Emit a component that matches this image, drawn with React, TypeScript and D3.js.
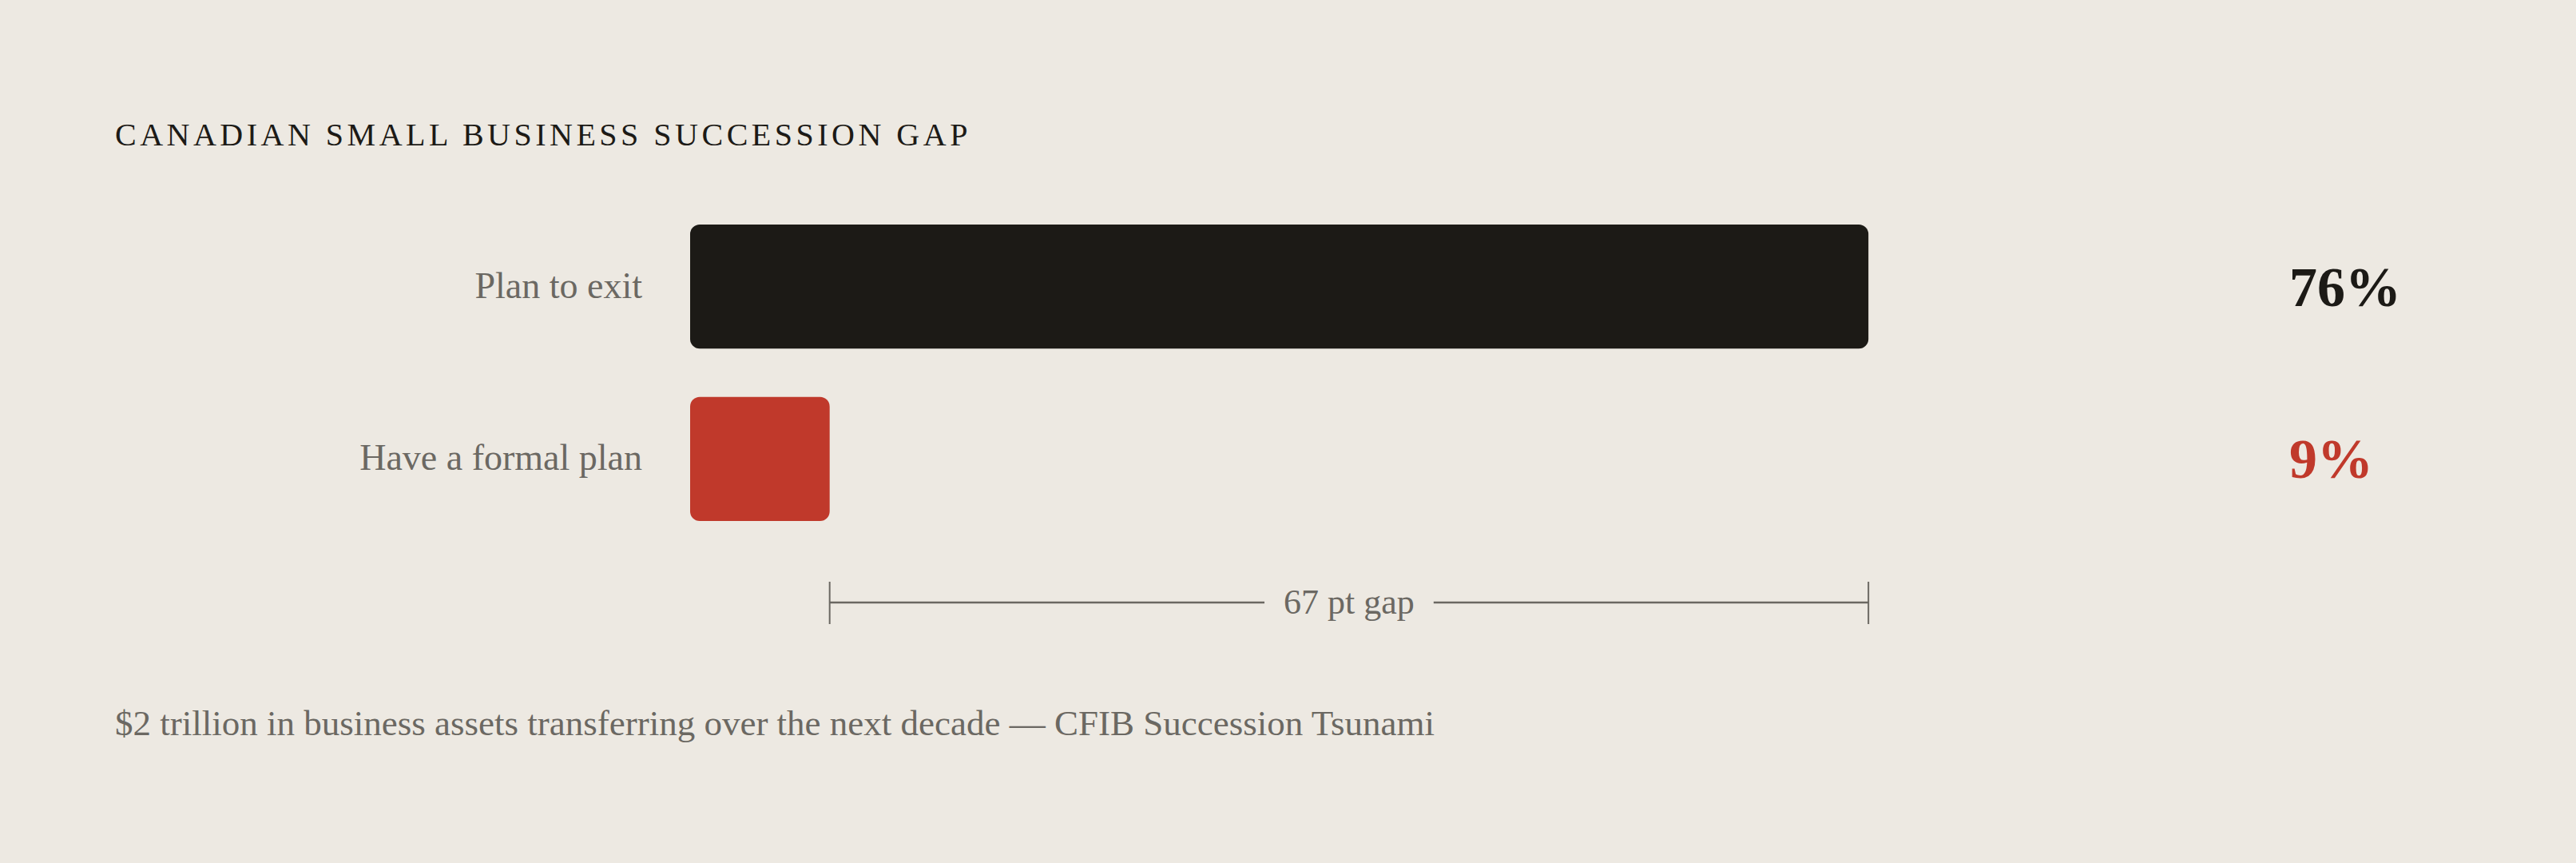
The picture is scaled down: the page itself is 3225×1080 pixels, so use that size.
import { useEffect, useRef } from 'react';
import * as d3 from 'd3';

const categories = ['Plan to exit', 'Have a formal plan'];
const values = [76, 9];
const barColors = ['#1c1a16', '#c0392b'];
const title = 'CANADIAN SMALL BUSINESS SUCCESSION GAP';
const footnote = '$2 trillion in business assets transferring over the next decade — CFIB Succession Tsunami';

const W = 3225;
const H = 1080;
const BG = '#ede9e2';
const GREY = '#6b6862';
const FONT = '"Liberation Serif", "DejaVu Serif", serif';

export default function App() {
  const ref = useRef<SVGSVGElement | null>(null);

  useEffect(() => {
    document.body.style.margin = '0';
    const svg = d3.select(ref.current!);
    svg.selectAll('*').remove();
    svg.append('rect').attr('width', W).attr('height', H).attr('fill', BG);

    const x = d3.scaleLinear().domain([0, 100]).range([864, 2805]);
    const y = d3.scaleBand<string>().domain(categories).range([281, 652]).paddingInner(0.28).paddingOuter(0);
    const data = categories.map((c, i) => ({ key: c, value: values[i], color: barColors[i] }));

    svg.append('text').attr('x', 144).attr('y', 182)
      .attr('font-family', FONT).attr('font-size', 40).attr('letter-spacing', 4.5)
      .attr('fill', '#1c1a16').text(title);

    // category labels
    svg.selectAll('.cat').data(data).enter().append('text')
      .attr('x', 804).attr('y', (d) => (y(d.key) ?? 0) + y.bandwidth() / 2 + 14)
      .attr('text-anchor', 'end').attr('font-family', FONT).attr('font-size', 46)
      .attr('fill', GREY).text((d) => d.key);

    // bars
    svg.selectAll('.bar').data(data).enter().append('rect')
      .attr('x', x(0)).attr('y', (d) => y(d.key) ?? 0)
      .attr('width', (d) => x(d.value) - x(0)).attr('height', y.bandwidth())
      .attr('rx', 12).attr('fill', (d) => d.color);

    // value labels
    svg.selectAll('.val').data(data).enter().append('text')
      .attr('x', 2866).attr('y', (d) => (y(d.key) ?? 0) + y.bandwidth() / 2 + 24)
      .attr('font-family', FONT).attr('font-size', 70).attr('font-weight', 700)
      .attr('fill', (d) => d.color).text((d) => `${d.value}%`);

    // gap bracket
    const x0 = x(values[1]);
    const x1 = x(values[0]);
    const gy = 754;
    const mid = (x0 + x1) / 2;
    const gapText = `${values[0] - values[1]} pt gap`;
    const lbl = svg.append('text').attr('x', mid).attr('y', gy + 14)
      .attr('text-anchor', 'middle').attr('font-family', FONT).attr('font-size', 44)
      .attr('fill', GREY).text(gapText);
    const tw = (lbl.node() as SVGTextElement).getComputedTextLength();
    const pad = 24;
    const g = svg.append('g').attr('stroke', GREY).attr('fill', 'none');
    g.append('line').attr('x1', x0).attr('x2', mid - tw / 2 - pad).attr('y1', gy).attr('y2', gy).attr('stroke-width', 2.5);
    g.append('line').attr('x1', mid + tw / 2 + pad).attr('x2', x1).attr('y1', gy).attr('y2', gy).attr('stroke-width', 2.5);
    [x0, x1].forEach((xx) => {
      g.append('line').attr('x1', xx).attr('x2', xx).attr('y1', gy - 26).attr('y2', gy + 27).attr('stroke-width', 2);
    });

    svg.append('text').attr('x', 144).attr('y', 920)
      .attr('font-family', FONT).attr('font-size', 45)
      .attr('fill', GREY).text(footnote);
  }, []);

  return <svg ref={ref} width={W} height={H} style={{ display: 'block' }} />;
}
